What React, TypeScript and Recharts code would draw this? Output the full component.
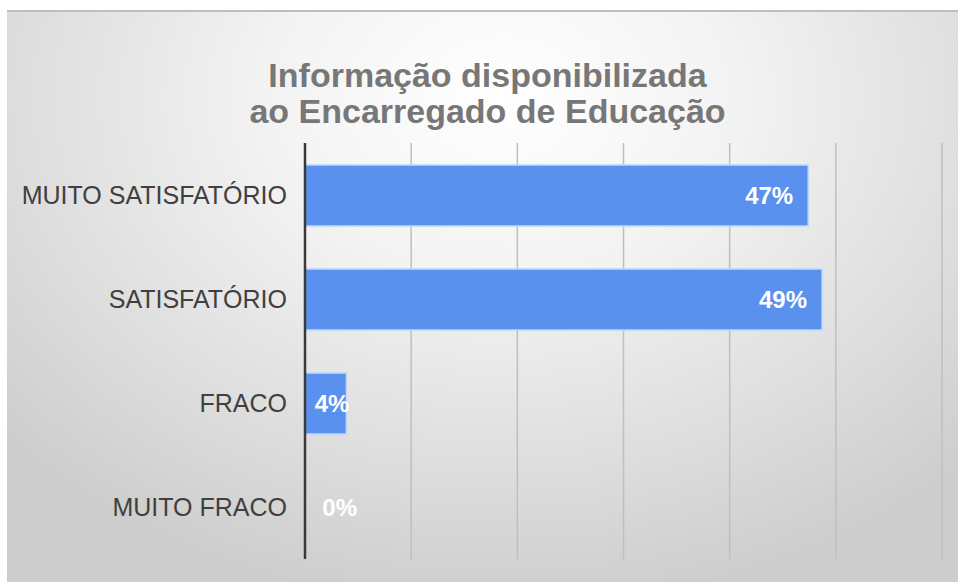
import { Bar, BarChart, CartesianGrid, Cell, LabelList, XAxis, YAxis } from 'recharts';

const categories = ['MUITO SATISFATÓRIO', 'SATISFATÓRIO', 'FRACO', 'MUITO FRACO'];
const percentages = [47.4, 48.7, 3.9, 0];
const xTicks = [0, 10, 20, 30, 40, 50, 60];

const chartData = categories.map((name, i) => ({ name, value: percentages[i] }));

const FONT = '"Liberation Sans", Arial, sans-serif';

// Excel-style label: inside the bar end, spills past the end for short bars
const renderLabel = (props: any) => {
  const { x, y, width, height, value } = props;
  let tx = x + width - 15;
  if (width < 50) tx = width > 1 ? x + width + 3 : x + 52;
  return (
    <text
      x={tx}
      y={y + height / 2}
      textAnchor="end"
      dominantBaseline="central"
      fill="#ffffff"
      fontFamily={FONT}
      fontWeight="bold"
      fontSize={24}
    >
      {`${Math.round(value)}%`}
    </text>
  );
};

export default function App() {
  return (
    <div style={{ position: 'absolute', left: 0, top: 0, width: 958, height: 582, background: '#ffffff', overflow: 'hidden' }}>
      <div
        style={{
          position: 'absolute',
          left: 7,
          top: 10,
          width: 951,
          height: 572,
          borderTop: '2px solid #bdbdbd',
          boxSizing: 'border-box',
          background: 'radial-gradient(ellipse 70% 90% at 52% 15%, #ffffff 0%, #f3f3f3 35%, #dcdcdc 75%, #cdcdcd 100%)',
        }}
      >
        <div
          style={{
            position: 'absolute',
            left: 5,
            top: 45,
            width: 951,
            textAlign: 'center',
            fontFamily: FONT,
            fontWeight: 'bold',
            fontSize: 34,
            lineHeight: '36px',
            color: '#777777',
          }}
        >
          Informação disponibilizada
          <br />
          ao Encarregado de Educação
        </div>
        <div style={{ position: 'absolute', left: 0, top: -2 }}>
          <BarChart
            width={951}
            height={572}
            data={chartData}
            layout="vertical"
            margin={{ top: 133, right: 16, bottom: 23, left: 0 }}
            barSize={61}
          >
            <CartesianGrid horizontal={false} stroke="#bfbfbf" strokeWidth={1.5} />
            <XAxis type="number" domain={[0, 60]} ticks={xTicks} hide />
            <YAxis
              type="category"
              dataKey="name"
              width={298}
              tickSize={0}
              tickMargin={18}
              axisLine={{ stroke: '#3a3a3a', strokeWidth: 2.5 }}
              tickLine={false}
              tick={{ fill: '#404040', fontSize: 25, fontFamily: FONT }}
            />
            <Bar
              dataKey="value"
              fill="#5a91ee"
              stroke="#c2d6f7"
              strokeWidth={1.5}
              minPointSize={0.01}
              isAnimationActive={false}
            >
              {chartData.map((d, i) => (
                <Cell key={`cell-${i}`} stroke={d.value > 0 ? '#c2d6f7' : 'none'} fill={d.value > 0 ? '#5a91ee' : 'none'} />
              ))}
              <LabelList dataKey="value" content={renderLabel} />
            </Bar>
          </BarChart>
        </div>
      </div>
    </div>
  );
}
